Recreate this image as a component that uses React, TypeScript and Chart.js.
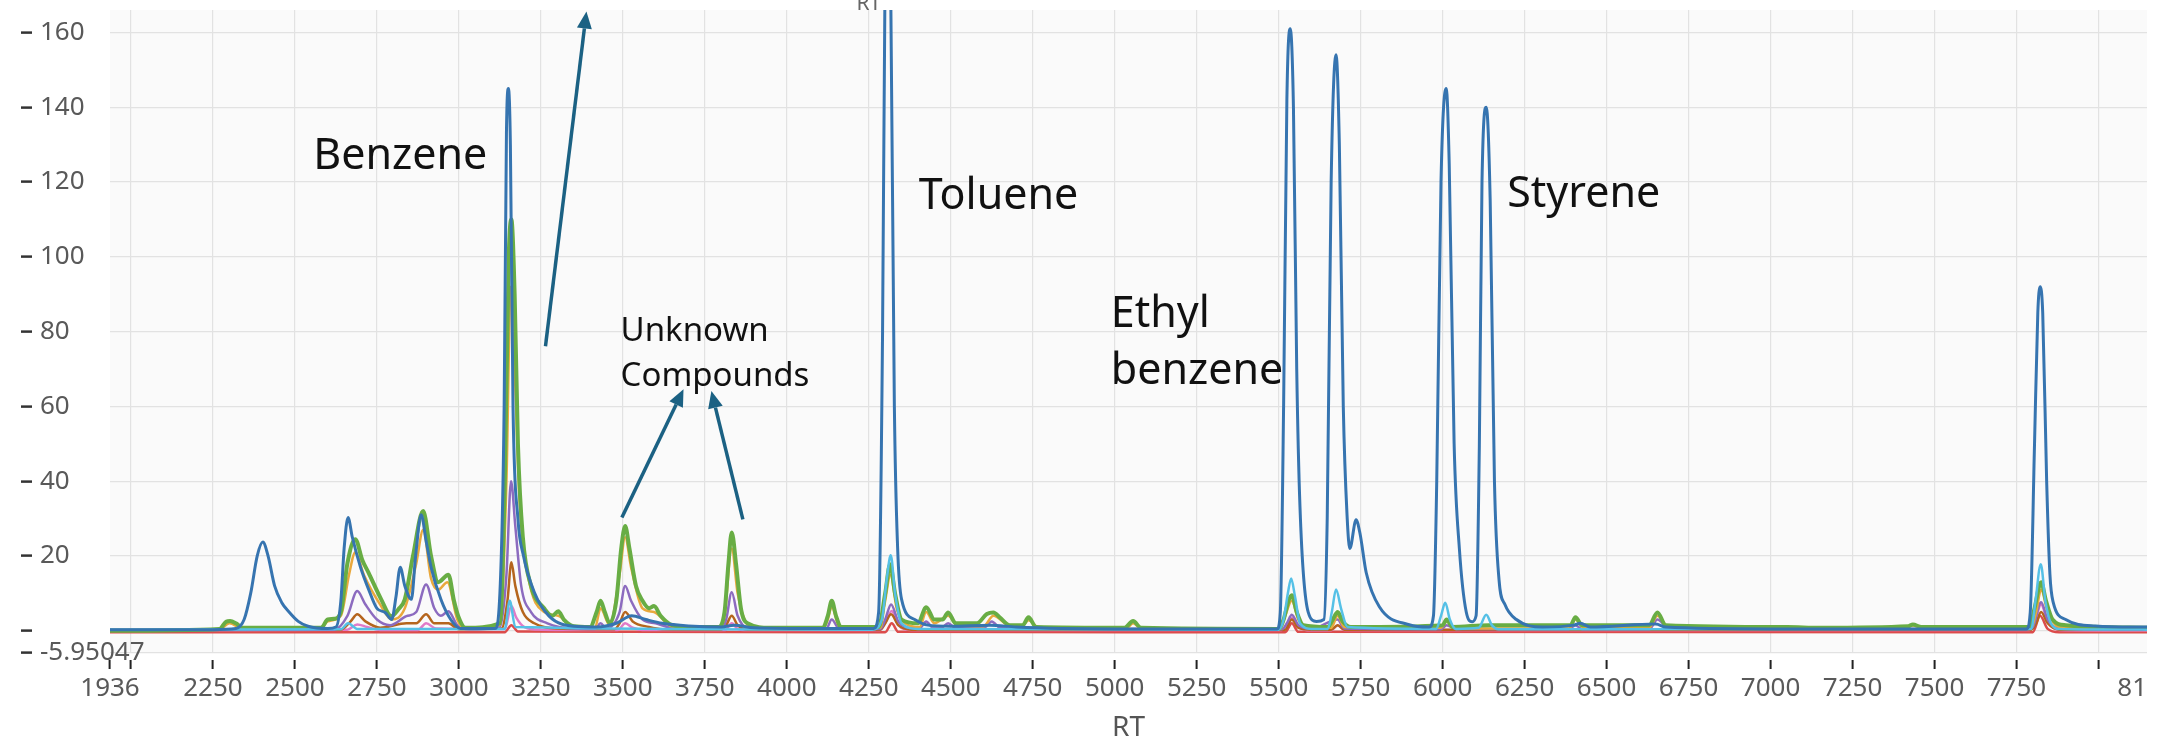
import React, { useEffect, useRef } from "react";
import { Chart, registerables } from "chart.js";

Chart.register(...registerables);

// ---------- axis ranges / ticks ----------
const X_MIN = 1936;
const X_MAX = 8148;
const Y_MIN = -5.95047;
const Y_MAX = 166;
const X_TICKS = [1936, 2000, 2250, 2500, 2750, 3000, 3250, 3500, 3750, 4000, 4250, 4500, 4750, 5000, 5250, 5500, 5750, 6000, 6250, 6500, 6750, 7000, 7250, 7500, 7750, 8000, 8148];
const X_HIDDEN_LABELS = [2000, 8000];
const Y_TICKS = [-5.95047, 0, 20, 40, 60, 80, 100, 120, 140, 160];
const Y_HIDDEN_LABELS = [0];

// ---------- series: [RT, intensity] ----------
const BLUE: [number, number][] = [
  [1936, 0.3], [2250, 0.3], [2320, 0.6], [2345, 3], [2365, 10], [2385, 20], [2402, 23.7], [2418, 20], [2438, 12], [2460, 7.5], [2482, 5], [2510, 2.5], [2540, 1.2], [2600, 0.6],
  [2625, 1], [2640, 8], [2650, 22], [2662, 30.3], [2675, 25], [2700, 17], [2725, 11], [2750, 6], [2775, 4.9], [2795, 3], [2808, 9], [2821, 17], [2835, 12], [2855, 8.4],
  [2868, 20], [2885, 31], [2900, 24], [2915, 17], [2945, 8.4], [2975, 3], [3005, 0.6], [3110, 0.6], [3125, 10], [3138, 60], [3145, 133], [3151, 145], [3157, 130], [3165, 60],
  [3180, 30], [3197, 20], [3230, 10.3], [3275, 3.9], [3350, 1.2], [3420, 1], [3480, 2], [3527, 4], [3570, 3], [3620, 2], [3700, 1.3], [3800, 1], [3840, 1.5], [3900, 0.8],
  [4100, 0.6], [4265, 0.6], [4280, 5], [4292, 80], [4300, 180], [4308, 205], [4316, 180], [4328, 60], [4338, 22], [4350, 8.4], [4390, 3], [4430, 1.5], [4500, 1.2], [4620, 1.5],
  [4700, 1], [5000, 0.5], [5495, 0.5], [5505, 5], [5515, 60], [5525, 142], [5535, 161], [5545, 140], [5555, 70], [5565, 33], [5590, 5], [5615, 2.5], [5638, 3], [5648, 30],
  [5660, 120], [5675, 154], [5685, 130], [5697, 60], [5709, 30], [5717, 22], [5736, 29.7], [5748, 26], [5767, 15.5], [5807, 6.4], [5898, 1.6], [5959, 1], [5972, 4], [5982, 40],
  [5995, 120], [6011, 145], [6020, 125], [6035, 50], [6051, 22], [6072, 5], [6090, 2.4], [6102, 4], [6112, 50], [6120, 120], [6133, 140], [6145, 115], [6158, 40], [6172, 13.6],
  [6190, 7], [6225, 3], [6304, 1], [6400, 1.5], [6420, 2], [6450, 1], [6650, 1.8], [6680, 1], [7000, 0.5], [7780, 0.5], [7792, 5], [7805, 50], [7815, 85], [7822, 92],
  [7830, 85], [7842, 40], [7852, 15], [7862, 7.6], [7900, 3], [7990, 1.3], [8148, 1],
];

const CYAN: [number, number][] = [
  [1936, 0.3], [2640, 0.4], [2662, 2], [2690, 0.5], [3140, 0.5], [3155, 8], [3172, 1], [4260, 0.3], [4290, 3], [4305, 14], [4317, 20.2], [4330, 10], [4350, 2], [4400, 0.5],
  [5500, 0.3], [5515, 3], [5528, 10], [5538, 14], [5550, 9], [5565, 2], [5600, 0.5], [5650, 0.5], [5662, 5], [5675, 11], [5690, 6], [5710, 1], [5980, 0.5], [5995, 4],
  [6008, 7.5], [6022, 3], [6040, 0.5], [6110, 0.8], [6133, 4.3], [6150, 1.5], [6170, 0.4], [7795, 0.5], [7808, 8], [7824, 17.8], [7838, 8], [7855, 2], [7880, 0.5], [8148, 0.3],
];

const GREEN: [number, number][] = [
  [1936, 0], [2270, 0.5], [2290, 2.4], [2302, 2.6], [2320, 2], [2340, 0.8], [2580, 0.8], [2600, 3], [2620, 3.2], [2640, 5], [2660, 18], [2684, 24.5], [2705, 19], [2724, 15.6],
  [2763, 8.4], [2794, 3.9], [2815, 5.7], [2835, 8.4], [2860, 20], [2891, 32], [2915, 20], [2937, 13], [2968, 15], [2985, 8], [2998, 3.9], [3020, 0.8], [3125, 2], [3140, 40],
  [3152, 100], [3160, 110], [3170, 90], [3180, 50], [3195, 25], [3220, 12], [3260, 6], [3285, 4], [3303, 5.2], [3320, 3], [3350, 1.2], [3400, 1], [3420, 5], [3432, 8],
  [3445, 5], [3460, 2], [3480, 8], [3495, 22], [3507, 28], [3520, 22], [3540, 12], [3560, 8], [3580, 6], [3595, 6.6], [3615, 4], [3650, 1.5], [3700, 1], [3790, 1],
  [3810, 5], [3822, 18], [3832, 26.3], [3845, 18], [3860, 6], [3880, 2], [3950, 0.8], [4110, 0.8], [4125, 4], [4137, 8], [4150, 4], [4165, 1], [4280, 1], [4300, 10],
  [4315, 17.8], [4330, 10], [4350, 3], [4400, 2], [4425, 6.3], [4450, 3], [4475, 3], [4492, 4.9], [4515, 2], [4580, 2], [4610, 4.5], [4630, 4.9], [4650, 3.5], [4680, 1.5],
  [4720, 1.5], [4737, 3.6], [4760, 1], [5030, 0.8], [5056, 2.6], [5080, 0.8], [5500, 0.5], [5515, 3], [5530, 8], [5540, 9.5], [5555, 5], [5575, 1.5], [5650, 1], [5665, 3],
  [5680, 5], [5695, 2.5], [5720, 1], [6000, 1.5], [6012, 3], [6030, 1], [6140, 1.5], [6390, 1.5], [6405, 3.6], [6425, 1.5], [6630, 1.5], [6655, 4.9], [6680, 1.5], [7050, 1],
  [7150, 0.8], [7420, 1.2], [7434, 1.7], [7460, 1], [7790, 1], [7805, 6], [7825, 13], [7840, 8], [7860, 3], [7900, 1.5], [8148, 0.8],
];

const ORANGE: [number, number][] = [
  [1936, 0.2], [2270, 0.4], [2300, 2], [2340, 0.6], [2580, 0.6], [2600, 2.5], [2640, 4], [2665, 15], [2684, 21], [2710, 15], [2760, 7], [2795, 3], [2835, 6], [2870, 18],
  [2891, 27], [2915, 14], [2937, 11], [2965, 13], [2995, 3], [3020, 0.6], [3125, 1.5], [3145, 40], [3158, 92], [3170, 70], [3185, 35], [3210, 15], [3260, 5], [3303, 4],
  [3350, 1], [3415, 0.8], [3432, 6], [3460, 1.5], [3490, 15], [3507, 25], [3525, 17], [3560, 6], [3595, 5], [3650, 1.2], [3795, 0.8], [3810, 4], [3832, 22], [3850, 10],
  [3880, 1.5], [3900, 0.6], [4110, 0.6], [4125, 3], [4137, 6.5], [4155, 2], [4170, 0.6], [4285, 0.8], [4300, 8], [4316, 15], [4335, 6], [4370, 1.5], [4405, 1], [4425, 5],
  [4450, 2], [4492, 4], [4520, 1.5], [4600, 1.2], [4630, 4], [4680, 1.2], [4715, 1], [4737, 2.8], [4770, 0.8], [5035, 0.6], [5056, 2], [5080, 0.6], [5505, 0.5], [5520, 4],
  [5540, 8], [5560, 3], [5600, 0.8], [5660, 0.8], [5680, 4], [5700, 1], [5995, 0.8], [6012, 2.5], [6040, 0.6], [6385, 0.6], [6405, 3], [6430, 0.8], [6630, 0.8], [6655, 4],
  [6690, 0.8], [7410, 0.8], [7434, 1.4], [7460, 0.8], [7795, 0.8], [7810, 5], [7825, 11], [7845, 5], [7880, 1], [8148, 0.5],
];

const PURPLE: [number, number][] = [
  [1936, 0.2], [2620, 0.3], [2660, 4], [2690, 10.6], [2715, 7], [2750, 3], [2790, 1.5], [2840, 3.9], [2870, 5], [2900, 12.4], [2925, 6], [2945, 4], [2968, 5.2], [2995, 1.5],
  [3030, 0.4], [3125, 1], [3145, 15], [3159, 40], [3172, 28], [3190, 12], [3220, 5], [3270, 2], [3350, 0.6], [3415, 0.5], [3432, 2], [3450, 0.6], [3490, 5], [3507, 12],
  [3525, 8], [3560, 3], [3600, 2], [3650, 0.8], [3800, 0.6], [3815, 3], [3832, 10.3], [3850, 4], [3880, 0.8], [4120, 0.5], [4137, 3], [4160, 0.5], [4285, 0.5], [4300, 3],
  [4318, 7], [4340, 2.5], [4370, 0.8], [4405, 0.6], [4425, 2.5], [4445, 0.8], [4470, 0.7], [4492, 2], [4515, 0.7], [4600, 0.7], [4625, 2.5], [4650, 0.8], [4700, 0.6],
  [5510, 0.4], [5525, 2], [5540, 4.3], [5560, 1.5], [5600, 0.5], [5680, 3], [5700, 0.6], [5995, 0.4], [6012, 1.5], [6040, 0.5], [6385, 0.4], [6405, 1.5], [6425, 0.4],
  [6630, 0.4], [6655, 3], [6690, 0.6], [7785, 0.4], [7800, 1], [7825, 7.6], [7845, 3], [7880, 0.6], [8148, 0.3],
];

const BROWN: [number, number][] = [
  [1936, 0.1], [2640, 0.3], [2670, 2.5], [2690, 4.4], [2715, 2.5], [2760, 0.8], [2840, 2], [2870, 2], [2900, 4.4], [2925, 2], [2968, 2], [3000, 0.4], [3130, 0.6], [3148, 8],
  [3160, 18.3], [3172, 12], [3195, 5], [3230, 2], [3300, 0.6], [3475, 0.4], [3490, 2], [3507, 5], [3530, 2.5], [3580, 1], [3620, 0.4], [3800, 0.3], [3815, 1.5], [3832, 4],
  [3850, 1.5], [3880, 0.3], [4285, 0.3], [4300, 2], [4318, 4.4], [4340, 1.5], [4380, 0.3], [5520, 0.3], [5540, 3], [5560, 0.8], [5600, 0.3], [5660, 0.3], [5680, 1.5],
  [5700, 0.3], [7795, 0.3], [7810, 2], [7825, 5], [7845, 2], [7880, 0.3], [8148, 0.2],
];

const PINK: [number, number][] = [
  [1936, 0], [2660, 0.3], [2690, 1.7], [2720, 1], [2760, 0.2], [2875, 0.2], [2900, 2], [2930, 0.6], [3140, 0.5], [3160, 6.6], [3175, 3.5], [3200, 1], [3250, 0.3],
  [3485, 0.2], [3507, 2], [3530, 0.8], [3560, 0.2], [3812, 0.2], [3832, 2], [3850, 0.5], [3870, 0.2], [4285, 0.2], [4300, 2], [4320, 5.3], [4340, 1.5], [4380, 0.2],
  [5505, 0.2], [5520, 1], [5540, 3.5], [5560, 1], [5600, 0.1], [5660, 0.1], [5680, 1.5], [5700, 0.2], [7790, 0.2], [7805, 2], [7825, 7], [7845, 2.5], [7880, 0.2], [8148, 0],
];

const RED: [number, number][] = [
  [1936, -0.4], [3140, -0.4], [3160, 1.5], [3180, -0.2], [4300, -0.4], [4320, 2], [4340, -0.3], [5520, -0.4], [5540, 2], [5560, -0.3], [7800, -0.4], [7822, 4], [7845, 0.5],
  [7880, -0.4], [8148, -0.4],
];

// ---------- annotations (data coordinates) ----------
const NOTES = [
  { lines: ["Benzene"], x: 2556, y: 123.4 },
  { lines: ["Toluene"], x: 4402, y: 112.7 },
  { lines: ["Ethyl", "benzene"], x: 4988, y: 81.1 },
  { lines: ["Styrene"], x: 6197, y: 113.2 },
];
const SMALL_NOTES = [{ lines: ["Unknown", "Compounds"], x: 3493, y: 77.4 }];
const ARROWS = [
  { from: [3264, 76.1], to: [3389, 165.6] },
  { from: [3497, 30.3], to: [3685, 64.6] },
  { from: [3866, 29.8], to: [3770, 64.1] },
];
const TOP_LABEL = { text: "RT", x: 4250 };

const FONT = "'Noto Sans', 'Open Sans', sans-serif";

const SERIES = [
  { name: "s1", data: BLUE, color: "#3674b0", width: 3 },
  { name: "s2", data: CYAN, color: "#55c0e6", width: 2.5 },
  { name: "s3", data: GREEN, color: "#68ad44", width: 4 },
  { name: "s4", data: ORANGE, color: "#e9a83c", width: 2.5 },
  { name: "s5", data: PURPLE, color: "#8c6bbf", width: 2.5 },
  { name: "s6", data: BROWN, color: "#b5651d", width: 2.5 },
  { name: "s7", data: PINK, color: "#e07ac8", width: 2.5 },
  { name: "s8", data: RED, color: "#dc4b4b", width: 2.5 },
];

const bgPlugin = {
  id: "plotBg",
  beforeDraw(chart: any) {
    const { ctx, chartArea: a } = chart;
    ctx.save();
    ctx.fillStyle = "#fafafa";
    ctx.fillRect(a.left, a.top, a.right - a.left, a.bottom - a.top);
    ctx.restore();
  },
};

const notesPlugin = {
  id: "notes",
  afterDraw(chart: any) {
    const { ctx } = chart;
    const xs = chart.scales.x;
    const ys = chart.scales.y;
    ctx.save();
    ctx.strokeStyle = "#1b6183";
    ctx.fillStyle = "#1b6183";
    ctx.lineWidth = 3.5;
    for (const a of ARROWS) {
      const x1 = xs.getPixelForValue(a.from[0]);
      const y1 = ys.getPixelForValue(a.from[1]);
      const x2 = xs.getPixelForValue(a.to[0]);
      const y2 = ys.getPixelForValue(a.to[1]);
      const ang = Math.atan2(y2 - y1, x2 - x1);
      const hl = 17;
      const hw = 7.5;
      const bx = x2 - hl * Math.cos(ang);
      const by = y2 - hl * Math.sin(ang);
      ctx.beginPath();
      ctx.moveTo(x1, y1);
      ctx.lineTo(bx, by);
      ctx.stroke();
      ctx.beginPath();
      ctx.moveTo(x2, y2);
      ctx.lineTo(bx + hw * Math.sin(ang), by - hw * Math.cos(ang));
      ctx.lineTo(bx - hw * Math.sin(ang), by + hw * Math.cos(ang));
      ctx.closePath();
      ctx.fill();
    }
    ctx.fillStyle = "#111";
    ctx.textAlign = "left";
    ctx.textBaseline = "alphabetic";
    ctx.font = `43px ${FONT}`;
    for (const n of NOTES) {
      const x = xs.getPixelForValue(n.x);
      const y = ys.getPixelForValue(n.y);
      n.lines.forEach((line, i) => ctx.fillText(line, x, y + i * 57));
    }
    ctx.font = `33px ${FONT}`;
    for (const n of SMALL_NOTES) {
      const x = xs.getPixelForValue(n.x);
      const y = ys.getPixelForValue(n.y);
      n.lines.forEach((line, i) => ctx.fillText(line, x, y + i * 45));
    }
    ctx.fillStyle = "#666";
    ctx.font = `21px ${FONT}`;
    ctx.textAlign = "center";
    ctx.fillText(TOP_LABEL.text, xs.getPixelForValue(TOP_LABEL.x), chart.chartArea.top);
    ctx.restore();
  },
};

export default function App() {
  const ref = useRef<HTMLCanvasElement>(null);

  useEffect(() => {
    if (!ref.current) return;
    const chart = new Chart(ref.current, {
      type: "line",
      data: {
        datasets: SERIES.map((s) => ({
          label: s.name,
          data: s.data.map(([x, y]) => ({ x, y })),
          borderColor: s.color,
          backgroundColor: s.color,
          borderWidth: s.width,
          pointRadius: 0,
          cubicInterpolationMode: "monotone" as const,
          fill: false,
        })),
      },
      options: {
        animation: false,
        responsive: false,
        devicePixelRatio: 1,
        layout: { padding: { left: 40, top: 10, right: 53, bottom: 0 } },
        plugins: { legend: { display: false }, tooltip: { enabled: false }, title: { display: false } },
        scales: {
          x: {
            type: "linear",
            min: X_MIN,
            max: X_MAX,
            afterBuildTicks: (scale: any) => {
              scale.ticks = X_TICKS.map((v) => ({ value: v }));
            },
            afterFit: (scale: any) => {
              scale.height = 93;
            },
            border: { display: false },
            grid: {
              color: (c: any) => (c.tick && (c.tick.value === X_MIN || c.tick.value === X_MAX) ? "rgba(0,0,0,0)" : "#e2e2e2"),
              lineWidth: 1.2,
              drawTicks: true,
              tickLength: 16,
              tickWidth: 2,
              tickColor: (c: any) => (c.tick && c.tick.value === X_MAX ? "rgba(0,0,0,0)" : "#222"),
              tickBorderDash: [0, 7, 9, 100],
            },
            ticks: {
              autoSkip: false,
              maxRotation: 0,
              padding: 4,
              color: "#595959",
              font: { size: 26, family: FONT },
              callback: (v: any) => (X_HIDDEN_LABELS.includes(Number(v)) ? "" : String(v)),
            },
            title: {
              display: true,
              text: "RT",
              color: "#555",
              font: { size: 28, family: FONT },
              padding: { top: 0, bottom: 1 },
            },
          },
          y: {
            type: "linear",
            min: Y_MIN,
            max: Y_MAX,
            afterBuildTicks: (scale: any) => {
              scale.ticks = Y_TICKS.map((v) => ({ value: v }));
            },
            afterFit: (scale: any) => {
              scale.width = 70;
              scale.paddingTop = 0;
              scale.paddingBottom = 0;
            },
            border: { display: false },
            grid: {
              color: "#e2e2e2",
              lineWidth: 1.2,
              drawTicks: true,
              tickLength: 89,
              tickWidth: 2.5,
              tickColor: "#333",
              tickBorderDash: [11, 200],
            },
            ticks: {
              mirror: true,
              padding: -70,
              crossAlign: "near",
              color: "#595959",
              font: { size: 26, family: FONT },
              callback: (v: any) => (Y_HIDDEN_LABELS.includes(Number(v)) ? "" : String(v)),
            },
          },
        },
      },
      plugins: [bgPlugin, notesPlugin],
    } as any);
    return () => chart.destroy();
  }, []);

  return (
    <div style={{ position: "absolute", left: 0, top: 0, width: 2147, height: 746, overflow: "hidden", background: "#fff" }}>
      <canvas ref={ref} width={2200} height={746} style={{ width: 2200, height: 746, display: "block" }} />
    </div>
  );
}
